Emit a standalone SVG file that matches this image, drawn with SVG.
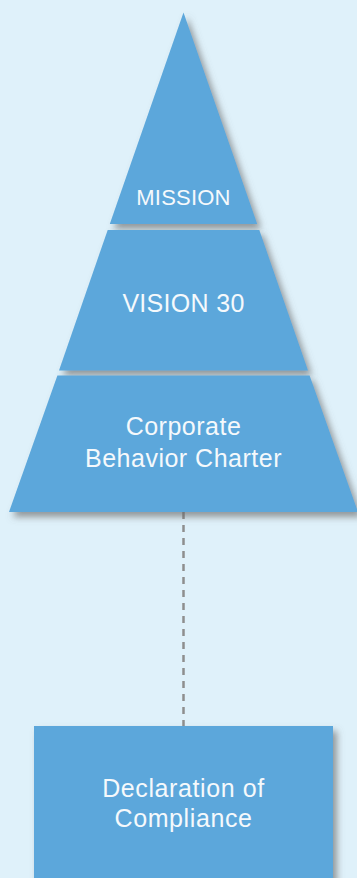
<svg xmlns="http://www.w3.org/2000/svg" width="357" height="878" viewBox="0 0 357 878">
  <style>
    .shape { fill: #5ba7db; filter: url(#shadow); }
    .label { fill: #f5f9fc; font-family: "Liberation Sans", Arial, Helvetica, sans-serif; text-anchor: middle; }
    .conn { stroke: #8e8e8e; stroke-width: 2.5; stroke-dasharray: 7 6; fill: none; }
  </style>
  <defs>
    <filter id="shadow" x="-10%" y="-10%" width="130%" height="130%">
      <feDropShadow dx="4" dy="5" stdDeviation="3.5" flood-color="#666666" flood-opacity="0.65"/>
    </filter>
  </defs>
  <rect x="0" y="0" width="357" height="878" fill="#dff1fa"/>
  <g id="connectors">
    <line class="conn" x1="183.5" y1="512" x2="183.5" y2="726"/>
  </g>
  <g id="mission">
    <polygon class="shape" points="183.5,12.5 257.2,224 109.8,224"/>
    <text class="label" x="183.5" y="205" font-size="22" letter-spacing="0.2">MISSION</text>
  </g>
  <g id="vision">
    <polygon class="shape" points="107.7,230 259.3,230 308,370.5 59,370.5"/>
    <text class="label" x="183.5" y="312" font-size="25" letter-spacing="0.3">VISION 30</text>
  </g>
  <g id="charter">
    <polygon class="shape" points="57.4,375.5 309.6,375.5 358,512 9,512"/>
    <text class="label" x="183.5" y="435" font-size="25" letter-spacing="0.5">Corporate</text>
    <text class="label" x="183.5" y="467" font-size="25" letter-spacing="0.5">Behavior Charter</text>
  </g>
  <g id="declaration">
    <rect class="shape" x="34" y="726" width="299" height="160"/>
    <text class="label" x="183.5" y="797" font-size="25" letter-spacing="0.6">Declaration of</text>
    <text class="label" x="183.5" y="827" font-size="25" letter-spacing="0.6">Compliance</text>
  </g>
</svg>
